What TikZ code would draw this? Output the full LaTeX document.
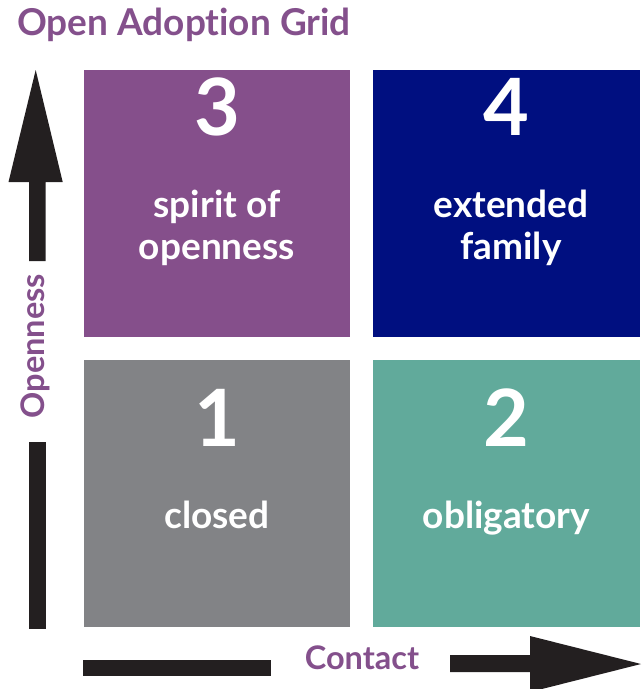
\documentclass[tikz,border=0pt]{standalone}
\usepackage{fontspec}
\setmainfont{Lato}[Ligatures=NoCommon]
\definecolor{gpurple}{HTML}{854F8B}
\definecolor{gnavy}{HTML}{000F80}
\definecolor{ggray}{HTML}{828386}
\definecolor{gteal}{HTML}{61AA9B}
\definecolor{gblack}{HTML}{231F20}
\definecolor{tpurple}{HTML}{84508C}
\begin{document}
\begin{tikzpicture}[x=1pt,y=-1pt,
  digit/.style={text=white,font=\fontsize{79}{79}\selectfont\bfseries,anchor=base,inner sep=0pt},
  label/.style={text=white,font=\fontsize{37}{42}\selectfont\bfseries,anchor=base,inner sep=0pt,align=center},
  axislabel/.style={text=tpurple,font=\fontsize{32.5}{32.5}\selectfont\bfseries,inner sep=0pt}]
\useasboundingbox (0,0) rectangle (643,689);
% boxes
\fill[gpurple] (84,70) rectangle (350,337);
\fill[gnavy] (373,70) rectangle (640,337);
\fill[ggray] (84,360) rectangle (350,627);
\fill[gteal] (373,360) rectangle (640,627);
% title
\node[text=tpurple,font=\fontsize{37}{37}\selectfont\bfseries,anchor=base west,inner sep=0pt] (title) at (17,35) {Open Adoption Grid};
% digits
\node[digit] (d3) at (217,135) {3};
\node[digit] (d4) at (506.5,135) {4};
\node[digit] (d1) at (217,446) {1};
\node[digit] (d2) at (506.5,446) {2};
% labels
\node[label] (l3) at (217,217) {spirit of};
\node[label] (l3b) at (217,259) {openness};
\node[label] (l4) at (511,217) {extended};
\node[label] (l4b) at (511,259) {family};
\node[label] (l1) at (217,528) {closed};
\node[label] (l2) at (506.5,528) {obligatory};
% axes
\fill[gblack] (35.7,70) -- (62.7,182) -- (45.5,182) -- (45.5,261) -- (29,261) -- (29,182) -- (8.5,182) -- cycle;
\fill[gblack] (29,442) rectangle (45.5,629);
\fill[gblack] (83,660) rectangle (271,676);
\fill[gblack] (450,655) -- (530,655) -- (530,636) -- (641,664) -- (530,692) -- (530,672) -- (450,672) -- cycle;
\node[axislabel,rotate=90,anchor=base] (openness) at (44,346) {Openness};
\node[axislabel,anchor=base] (contact) at (362,669) {Contact};
\end{tikzpicture}
\end{document}
